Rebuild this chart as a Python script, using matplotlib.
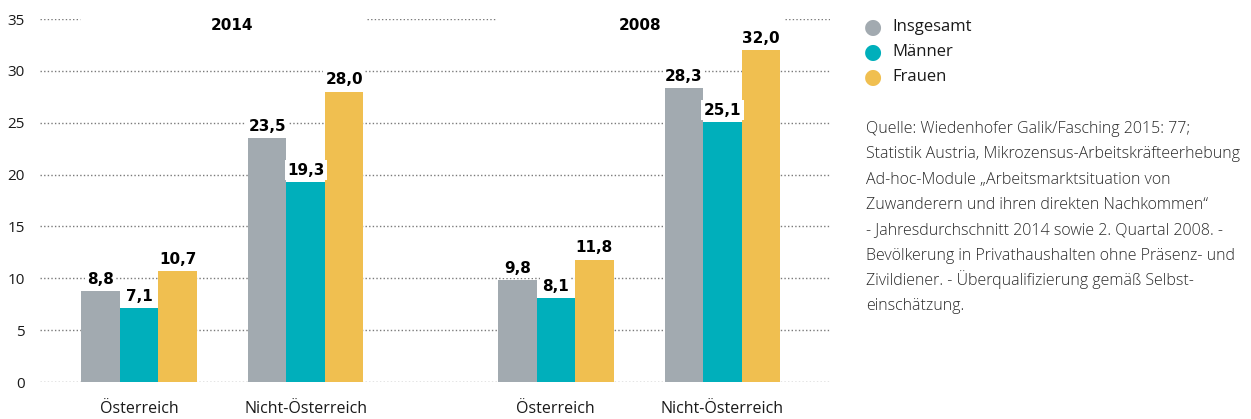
import numpy as np
import matplotlib.pyplot as plt

# data
regions = ['Österreich', 'Nicht-Österreich', 'Österreich', 'Nicht-Österreich']
years = ['2014', '2008']
insgesamt = [8.8, 23.5, 9.8, 28.3]
maenner = [7.1, 19.3, 8.1, 25.1]
frauen = [10.7, 28.0, 11.8, 32.0]
series_names = ['Insgesamt', 'Männer', 'Frauen']
colors = ['#a2aab0', '#00afbb', '#f0bf50']

source_lines = [
    'Quelle: Wiedenhofer Galik/Fasching 2015: 77;',
    'Statistik Austria, Mikrozensus-Arbeitskräfteerhebung',
    'Ad-hoc-Module \u201eArbeitsmarktsituation von',
    'Zuwanderern und ihren direkten Nachkommen\u201c',
    '- Jahresdurchschnitt 2014 sowie 2. Quartal 2008. -',
    'Bevölkerung in Privathaushalten ohne Präsenz- und',
    'Zivildiener. - Überqualifizierung gemäß Selbst-',
    'einschätzung.',
]

plt.rcParams['font.family'] = ['Open Sans', 'DejaVu Sans']

fig = plt.figure(figsize=(12.51, 4.19), dpi=100)
ax = fig.add_axes([40 / 1251, 37 / 419, 790 / 1251, 363 / 419])

x = np.array([0, 1, 2.5, 3.5])
width = 0.231
grid_kw = dict(color='#7a7a7a', linewidth=1.0, linestyle=(0, (1, 1.6)), zorder=1)

for v in range(0, 35, 5):
    ax.axhline(v, **grid_kw)
# top line is interrupted by the year labels
for a, b in [(0, 0.051), (0.414, 0.578), (0.943, 1)]:
    ax.axhline(35, xmin=a, xmax=b, **grid_kw)

for i, vals in enumerate([insgesamt, maenner, frauen]):
    pos = x + (i - 1) * width
    ax.bar(pos, vals, width, color=colors[i], zorder=2)
    for px, v in zip(pos, vals):
        ax.annotate(f'{v:.1f}'.replace('.', ','), (px, v), xytext=(0, 3),
                    textcoords='offset points', ha='center', va='bottom',
                    fontsize=11, fontweight='bold', family='DejaVu Sans',
                    bbox=dict(boxstyle='square,pad=0.15', fc='white', ec='none'),
                    zorder=3)

ax.text(0.558, 34.4, years[0], ha='center', va='center', fontsize=11,
        fontweight='bold', family='DejaVu Sans')
ax.text(3.005, 34.4, years[1], ha='center', va='center', fontsize=11,
        fontweight='bold', family='DejaVu Sans')

ax.set_xlim(-0.594, 4.145)
ax.set_ylim(0, 35)
ax.set_xticks(x)
ax.set_xticklabels(regions, fontsize=11.5, color='#1a1a1a')
ax.set_yticks(range(0, 36, 5))
ax.tick_params(axis='y', length=0, pad=11, labelsize=11, labelcolor='#1a1a1a')
ax.tick_params(axis='x', length=0, pad=14)
for s in ax.spines.values():
    s.set_visible(False)

# legend
for i, name in enumerate(series_names):
    y = 1 - (27 + 25 * i) / 419
    fig.text(873 / 1251, y, '\u25cf', color=colors[i], fontsize=15,
             ha='center', va='center', family='DejaVu Sans')
    fig.text(892 / 1251, y, name, fontsize=12, ha='left', va='center', color='#1a1a1a')

# source, one line at a time on fixed baselines
for k, line in enumerate(source_lines):
    fig.text(866 / 1251, 1 - (133 + 25.3 * k) / 419, line, fontsize=11.5,
             ha='left', va='baseline', color='#2a2a2a', fontweight='light')

fig.savefig('out.png', dpi=100)
